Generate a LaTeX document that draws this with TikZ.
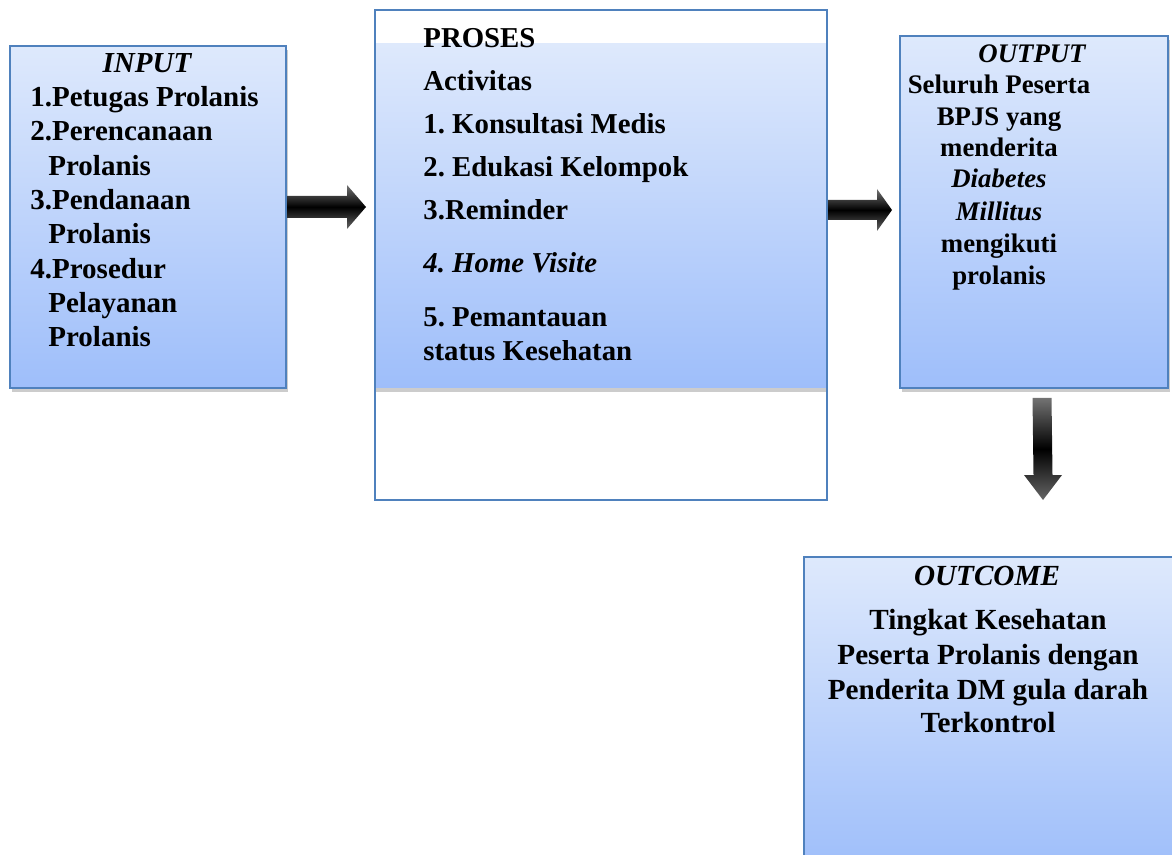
\documentclass[tikz,border=0pt]{standalone}
\usepackage{fontspec}
\setmainfont{Liberation Serif}
\usepackage{tikz}
\usetikzlibrary{calc,shadows}
\definecolor{boxtop}{RGB}{222,233,252}
\definecolor{boxbot}{RGB}{158,190,250}
\definecolor{boxline}{RGB}{79,129,189}
\frenchspacing
\tikzset{
  box/.style={rectangle,draw=boxline,line width=1pt,top color=boxtop,bottom color=boxbot,
    inner sep=0pt,outer sep=0pt,anchor=north west,
    drop shadow={shadow xshift=1pt,shadow yshift=-2pt,fill=black!20,opacity=1}},
  band/.style={rectangle,top color=boxtop,bottom color=boxbot,inner sep=0pt,outer sep=0pt,anchor=north west,
    drop shadow={shadow xshift=0pt,shadow yshift=-2pt,fill=black!20,opacity=1}},
  frame/.style={rectangle,draw=boxline,line width=1pt,inner sep=0pt,outer sep=0pt,anchor=north west},
  lab/.style={inner sep=0pt,font=\fontsize{14.5}{17}\bfseries\selectfont},
  labp/.style={inner sep=0pt,font=\fontsize{14.4}{17}\bfseries\selectfont,anchor=base west},
  labq/.style={inner sep=0pt,font=\fontsize{13.4}{16}\bfseries\selectfont,anchor=base},
  labo/.style={inner sep=0pt,font=\fontsize{14.6}{17}\bfseries\selectfont,anchor=base},
  blk/.style={top color=black!55,bottom color=black!60,middle color=black}
}
\begin{document}
\begin{tikzpicture}[x=0.5pt,y=-0.5pt]
  \useasboundingbox (0,0) rectangle (1172,855);
  % boxes
  \node[box,minimum width=138pt,minimum height=171pt] (input) at (10,46) {};
  \node[band,minimum width=225pt,minimum height=172pt] (band) at (376,44) {};
  \node[frame,minimum width=226pt,minimum height=245pt] (proses) at (375,10) {};
  \node[box,minimum width=134pt,minimum height=176pt] (output) at (900,36) {};
  \node[box,minimum width=185pt,minimum height=157pt] (outcome) at (804,557) {};
  % input
  \node[lab,anchor=base,font=\fontsize{14.5}{17}\bfseries\itshape\selectfont] (inhead) at (147,73) {INPUT};
  \foreach \yy/\xx/\tt [count=\i] in {107/30/1.Petugas Prolanis,141/30/2.Perencanaan,176/48/Prolanis,
      210/30/3.Pendanaan,244/48/Prolanis,279/30/4.Prosedur,313/48/Pelayanan,347/48/Prolanis}
    \node[lab,anchor=base west] (in\i) at (\xx,\yy) {\tt};
  % proses
  \node[labp] (prhead) at (423,48) {PROSES};
  \foreach \yy/\tt [count=\i] in {91/Activitas,134/1. Konsultasi Medis,177/2. Edukasi Kelompok,
      220/3.Reminder,273/{\itshape 4. Home Visite},327/5. Pemantauan,361/status Kesehatan}
    \node[labp] (pr\i) at (423,\yy) {\tt};
  % output
  \node[labq,font=\fontsize{13.4}{16}\bfseries\itshape\selectfont] (outhead) at (1032,63) {OUTPUT};
  \foreach \yy/\tt [count=\i] in {94/Seluruh Peserta,126/BPJS yang,157/menderita,188/{\itshape Diabetes},
      221/{\itshape Millitus},253/mengikuti,285/prolanis}
    \node[labq] (out\i) at (999,\yy) {\tt};
  % outcome
  \node[labo,font=\fontsize{14.6}{17}\bfseries\itshape\selectfont] (ochead) at (987,585) {OUTCOME};
  \foreach \yy/\tt [count=\i] in {629/Tingkat Kesehatan,664/Peserta Prolanis dengan,
      699/Penderita DM gula darah,732/Terkontrol}
    \node[labo] (oc\i) at (988,\yy) {\tt};
  % arrows
  \coordinate (a1) at ($(input.east)+(1,-10)$);
  \coordinate (b1) at ($(proses.west)+(-9,-48)$);
  \path[blk] ($(a1)+(0,-11)$) -- ($(b1)+(-19,-11)$) -- ($(b1)+(-19,-22)$) -- (b1)
    -- ($(b1)+(-19,22)$) -- ($(b1)+(-19,11)$) -- ($(a1)+(0,11)$) -- cycle;
  \coordinate (a2) at ($(proses.east)+(1,-45)$);
  \coordinate (b2) at ($(output.west)+(-8,-2)$);
  \path[blk] ($(a2)+(0,-10)$) -- ($(b2)+(-15,-10)$) -- ($(b2)+(-15,-21)$) -- (b2)
    -- ($(b2)+(-15,21)$) -- ($(b2)+(-15,10)$) -- ($(a2)+(0,10)$) -- cycle;
  \coordinate (a3) at ($(output.south)+(8,10)$);
  \coordinate (b3) at ($(outcome.north)+(54,-57)$);
  \path[blk] ($(a3)+(-9.5,0)$) -- ($(b3)+(-9.5,-25)$) -- ($(b3)+(-19,-25)$) -- (b3)
    -- ($(b3)+(19,-25)$) -- ($(b3)+(9.5,-25)$) -- ($(a3)+(9.5,0)$) -- cycle;
\end{tikzpicture}
\end{document}
